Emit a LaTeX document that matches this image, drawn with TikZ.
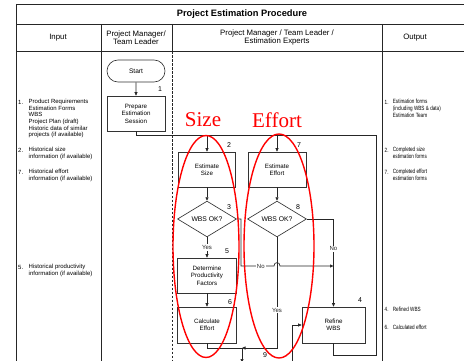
\documentclass[tikz,border=0pt]{standalone}
\usepackage{fontspec}
\setmainfont{Liberation Sans}
\newfontfamily\redserif{Liberation Serif}
\newfontfamily\narrowsans[FakeStretch=0.76]{Liberation Sans}
\usetikzlibrary{arrows.meta,shapes.geometric,shapes.misc}
\begin{document}
\begin{tikzpicture}[x=1pt,y=-1pt,
  every node/.style={font=\fontsize{6}{6.6}\selectfont, inner sep=0pt},
  tline/.style={line width=0.75pt, black!85},
  flow/.style={line width=0.65pt, black!85},
  arr/.style={flow, -{Triangle[length=3.5pt,width=3pt]}},
  box/.style={draw=black!80, line width=0.65pt, align=center, minimum height=35pt, font=\fontsize{6.2}{7.4}\selectfont},
  dia/.style={draw=black!80, line width=0.65pt, diamond, minimum width=59pt, minimum height=34pt, font=\fontsize{6.8}{8}\selectfont},
  lab/.style={fill=white, inner sep=1pt, font=\fontsize{6}{7}\selectfont},
  num/.style={font=\fontsize{7}{8}\selectfont},
  itm/.style={anchor=north west, align=left},
  outt/.style={font=\narrowsans\fontsize{6.1}{7}\selectfont},
  hdr/.style={font=\fontsize{7.8}{7.2}\selectfont, align=center},
  ell/.style={draw=red, line width=1.4pt},
  big/.style={font=\redserif\fontsize{21}{21}\selectfont, text=red}]
\useasboundingbox (0,0) rectangle (464,361);
% table
\draw[tline] (16,4) -- (472,4);
\draw[tline] (16,24) -- (472,24);
\draw[tline] (16,51.5) -- (472,51.5);
\draw[tline] (16,4) -- (16,370);
\draw[tline] (101,24) -- (101,370);
\draw[tline] (172,24) -- (172,51.5);
\draw[tline, dashed, dash pattern=on 2.5pt off 1.5pt] (172,51.5) -- (172,370);
\draw[tline] (382,24) -- (382,370);
\node[font=\bfseries\fontsize{9.3}{10}\selectfont] (title) at (242,14) {Project Estimation Procedure};
\node[hdr] (h1) at (58,38) {Input};
\node[hdr] (h2) at (136,37.5) {Project Manager/\\Team Leader};
\node[hdr] (h3) at (277,37.5) {Project Manager / Team Leader /\\Estimation Experts};
\node[hdr] (h4) at (415,38) {Output};
% input texts
\node[anchor=west] (i1n) at (18,102) {1.};
\node[itm] (i1) at (28.5,99.2) {Product Requirements\\Estimation Forms\\WBS\\Project Plan (draft)\\Historic data of similar\\projects (if available)};
\node[anchor=west] (i2n) at (18,150) {2.};
\node[itm] (i2) at (28.5,147.2) {Historical size\\information (if available)};
\node[anchor=west] (i7n) at (18,172) {7.};
\node[itm] (i7) at (28.5,169.2) {Historical effort\\information (if available)};
\node[anchor=west] (i5n) at (18,267) {5.};
\node[itm] (i5) at (28.5,264.2) {Historical productivity\\information (if available)};
% output texts
\node[outt, anchor=west] (o1n) at (384.5,102) {1.};
\node[outt, itm] (o1) at (392.7,99.2) {Estimation forms\\(including WBS \& data)\\Estimation Team};
\node[outt, anchor=west] (o2n) at (384.5,150) {2.};
\node[outt, itm] (o2) at (392.7,147.2) {Completed size\\estimation forms};
\node[outt, anchor=west] (o7n) at (384.5,172) {7.};
\node[outt, itm] (o7) at (392.7,169.2) {Completed effort\\estimation forms};
\node[outt, anchor=west] (o4n) at (384.5,309) {4.};
\node[outt, anchor=west] (o4) at (392.7,309) {Refined WBS};
\node[outt, anchor=west] (o6n) at (384.5,327) {6.};
\node[outt, anchor=west] (o6) at (392.7,327) {Calculated effort};
% flow nodes
\node[draw=black!80, line width=0.65pt, rounded rectangle, minimum width=58pt, minimum height=22pt, font=\fontsize{6.6}{8}\selectfont] (start) at (136,71) {Start};
\node[box, minimum width=58pt] (prep) at (136,113.5) {Prepare\\Estimation\\Session};
\node[box, minimum width=57pt] (size) at (207,169.5) {Estimate\\Size};
\node[box, minimum width=58pt] (effort) at (277,169.5) {Estimate\\Effort};
\node[dia] (d3) at (207,219) {WBS OK?};
\node[dia] (d8) at (277,219) {WBS OK?};
\node[box, minimum width=59pt] (det) at (207,275.5) {Determine\\Productivity\\Factors};
\node[box, minimum width=59pt, minimum height=36pt] (calc) at (207,325) {Calculate\\Effort};
\node[box, minimum width=63pt, minimum height=36pt] (refine) at (333.5,325) {Refine\\WBS};
% step numbers
\node[num] (n1) at (160,89) {1};
\node[num] (n2) at (229,145) {2};
\node[num] (n7) at (299,145) {7};
\node[num] (n3) at (229,207) {3};
\node[num] (n8) at (298,207) {8};
\node[num] (n5) at (227,251) {5};
\node[num] (n6) at (230,302) {6};
\node[num] (n4) at (360,300) {4};
\node[num] (n9) at (265,355) {9};
% coordinates
\coordinate (tl) at (136,135);
\coordinate (tr) at (376,135);
\coordinate (br) at (376,355);
\coordinate (bl) at (333.5,355);
\coordinate (c3) at (241,219);
\coordinate (c3b) at (241,266);
\coordinate (h1) at (274,266);
\coordinate (h2) at (280,266);
\coordinate (c8) at (333.5,219);
\coordinate (m8) at (333.5,266);
\coordinate (j) at (242,348);
\coordinate (jd) at (242,362.5);
\coordinate (in4) at (292,366);
% connectors
\draw[arr] (start) -- (prep);
\draw[flow] (prep.south) -- (tl) -- (tr);
\draw[arr] (size.north |- tl) -- (size.north);
\draw[arr] (effort.north |- tl) -- (effort.north);
\draw[arr] (size) -- (d3);
\draw[arr] (effort) -- (d8);
\draw[arr] (d3.south) -- node[lab]{Yes} (det.north);
\draw[arr] (det) -- (calc);
\draw[arr] (d3.east) -- (c3) -- (c3b) -- node[lab, pos=0.6]{No} (h1) .. controls (274,261.5) and (280,261.5) .. (h2) -- (m8);
\draw[arr] (d8.east) -- (c8) -- node[lab, pos=0.34]{No} (refine.north);
\draw[arr] (d8.south) -- node[lab, pos=0.66]{Yes} (d8.south |- j) -- (j);
\draw[flow] (calc.south) |- (j);
\draw[arr] (j) -- (jd);
\draw[arr] (in4) |- (refine.west);
\draw[flow] (refine.south) -- (bl) -- (br) -- (tr);
% red annotations
\draw[ell] (206,246.5) ellipse [x radius=33, y radius=111];
\draw[ell] (279,246) ellipse [x radius=35, y radius=112];
\node[big] (sz) at (203,120) {Size};
\node[big] (ef) at (277,120) {Effort};
\end{tikzpicture}
\end{document}
